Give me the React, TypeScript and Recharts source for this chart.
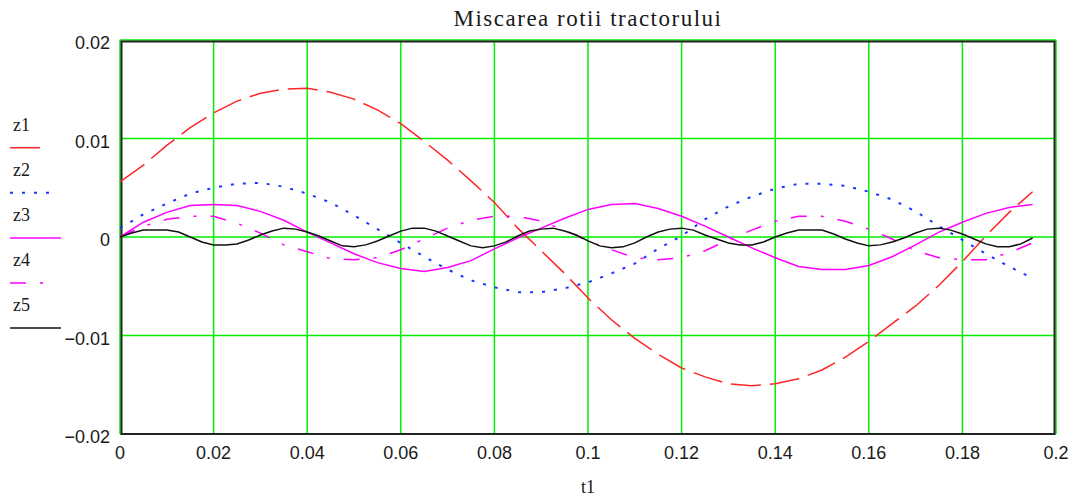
import { CartesianGrid, Legend, Line, LineChart, ReferenceArea, XAxis, YAxis } from "recharts";

// time grid of the four slow curves (step 0.005)
const tCoarse = [
  0, 0.005, 0.01, 0.015, 0.02, 0.025, 0.03, 0.035, 0.04, 0.045,
  0.05, 0.055, 0.06, 0.065, 0.07, 0.075, 0.08, 0.085, 0.09, 0.095,
  0.1, 0.105, 0.11, 0.115, 0.12, 0.125, 0.13, 0.135, 0.14, 0.145,
  0.15, 0.155, 0.16, 0.165, 0.17, 0.175, 0.18, 0.185, 0.19, 0.195,
];

// time grid of z5, which wiggles faster (step 0.0025)
const tFine = [
  0, 0.0025, 0.005, 0.0075, 0.01, 0.0125, 0.015, 0.0175, 0.02, 0.0225,
  0.025, 0.0275, 0.03, 0.0325, 0.035, 0.0375, 0.04, 0.0425, 0.045, 0.0475,
  0.05, 0.0525, 0.055, 0.0575, 0.06, 0.0625, 0.065, 0.0675, 0.07, 0.0725,
  0.075, 0.0775, 0.08, 0.0825, 0.085, 0.0875, 0.09, 0.0925, 0.095, 0.0975,
  0.1, 0.1025, 0.105, 0.1075, 0.11, 0.1125, 0.115, 0.1175, 0.12, 0.1225,
  0.125, 0.1275, 0.13, 0.1325, 0.135, 0.1375, 0.14, 0.1425, 0.145, 0.1475,
  0.15, 0.1525, 0.155, 0.1575, 0.16, 0.1625, 0.165, 0.1675, 0.17, 0.1725,
  0.175, 0.1775, 0.18, 0.1825, 0.185, 0.1875, 0.19, 0.1925, 0.195,
];

const z1 = [
  0.0056, 0.0073, 0.0093, 0.0111, 0.0126, 0.0138, 0.0146, 0.015, 0.0151, 0.0147,
  0.014, 0.0129, 0.0115, 0.0097, 0.0078, 0.0057, 0.0035, 0.0009, -0.0014, -0.0037,
  -0.0062, -0.0084, -0.0103, -0.0119, -0.0133, -0.0142, -0.0149, -0.0151, -0.0149, -0.0144,
  -0.0135, -0.0122, -0.0106, -0.0088, -0.007, -0.0049, -0.0025, 0.0001, 0.0025, 0.0046,
];

const z2 = [
  0.0009, 0.0023, 0.0034, 0.0044, 0.005, 0.0054, 0.0055, 0.0051, 0.0044, 0.0035,
  0.0022, 0.0008, -0.0006, -0.002, -0.0033, -0.0044, -0.0051, -0.0056, -0.0056, -0.0052,
  -0.0046, -0.0037, -0.0027, -0.0012, 0.0001, 0.0018, 0.0031, 0.0041, 0.0049, 0.0054,
  0.0054, 0.0052, 0.0046, 0.0038, 0.0026, 0.0011, -0.0003, -0.0017, -0.003, -0.0042,
];

const z3 = [
  0, 0.0015, 0.0025, 0.0032, 0.0033, 0.0032, 0.0026, 0.0017, 0.0005, -0.0006,
  -0.0017, -0.0026, -0.0032, -0.0035, -0.0031, -0.0024, -0.0012, -0.0001, 0.0009, 0.0019,
  0.0028, 0.0033, 0.0034, 0.0029, 0.0021, 0.0011, 0, -0.0011, -0.0021, -0.003,
  -0.0033, -0.0033, -0.0029, -0.002, -0.0008, 0.0005, 0.0015, 0.0024, 0.003, 0.0033,
];

const z4 = [
  0, 0.0011, 0.0018, 0.0021, 0.0021, 0.0014, 0.0004, -0.0008, -0.0015, -0.0022,
  -0.0023, -0.0021, -0.0013, -0.0002, 0.0009, 0.0017, 0.0021, 0.0021, 0.0016, 0.0007,
  -0.0004, -0.0013, -0.0021, -0.0023, -0.0021, -0.0014, -0.0003, 0.0007, 0.0016, 0.0021,
  0.0021, 0.0016, 0.0008, -0.0002, -0.0014, -0.0021, -0.0023, -0.0023, -0.0016, -0.0006,
];

const z5 = [
  0, 0.0004, 0.0007, 0.0007, 0.0007, 0.0005, 0, -0.0005, -0.0008, -0.0008,
  -0.0007, -0.0003, 0.0002, 0.0006, 0.0009, 0.0008, 0.0005, 0.0001, -0.0004, -0.0009,
  -0.001, -0.0008, -0.0004, 0.0001, 0.0006, 0.0009, 0.0009, 0.0006, 0.0001, -0.0004,
  -0.0009, -0.0011, -0.0009, -0.0005, 0.0001, 0.0006, 0.0008, 0.0009, 0.0006, 0.0002,
  -0.0004, -0.0009, -0.0011, -0.001, -0.0006, 0, 0.0005, 0.0008, 0.0009, 0.0007,
  0.0002, -0.0002, -0.0006, -0.0008, -0.0008, -0.0005, 0, 0.0004, 0.0007, 0.0007,
  0.0007, 0.0003, -0.0002, -0.0006, -0.0009, -0.0008, -0.0005, -0.0001, 0.0004, 0.0008,
  0.0009, 0.0007, 0.0003, -0.0002, -0.0007, -0.001, -0.001, -0.0007, -0.0001,
];

const xTicks = [0, 0.02, 0.04, 0.06, 0.08, 0.1, 0.12, 0.14, 0.16, 0.18, 0.2];
const xTickLabels = ["0", "0.02", "0.04", "0.06", "0.08", "0.1", "0.12", "0.14", "0.16", "0.18", "0.2"];
const yTicks = [-0.02, -0.01, 0, 0.01, 0.02];
const yTickLabels = ["\u22120.02", "\u22120.01", "0", "0.01", "0.02"];

const series = [
  { key: "z1", color: "#ff2626", dash: "30 9", width: 1.5, legendLen: 35 },
  { key: "z2", color: "#1c34ff", dash: "3 9", width: 2, legendLen: 42 },
  { key: "z3", color: "#ff00ff", dash: undefined, width: 1.5, legendLen: 51 },
  { key: "z4", color: "#ff00ff", dash: "16 14 3 14", width: 1.5, legendLen: 34 },
  { key: "z5", color: "#111111", dash: undefined, width: 1.5, legendLen: 51 },
];

// z5 runs on the fine grid; the other curves sit on every second row
const rows = tFine.map((t, i) => {
  const j = i / 2;
  const even = i % 2 === 0 && tCoarse[j] === t;
  return {
    t,
    z1: even ? z1[j] : null,
    z2: even ? z2[j] : null,
    z3: even ? z3[j] : null,
    z4: even ? z4[j] : null,
    z5: z5[i],
  };
});

const tickFont = { fontFamily: "'Liberation Sans', Arial, sans-serif", fontSize: 18, fill: "#1a1a1a" };
const serif = "'Liberation Serif', 'Times New Roman', serif";

// Mathcad draws its black box just inside the outer green grid lines
const FrameBox = (p: any) => (
  <rect
    x={p.x + 1.5}
    y={p.y + 1.5}
    width={p.width - 3}
    height={p.height - 1.5}
    fill="none"
    stroke="#222"
    strokeWidth={2}
  />
);

const MathcadLegend = () => (
  <svg width={80} height={240}>
    {series.map((s, i) => {
      const ly = 47.7 + i * 45.1;
      return (
        <g key={s.key}>
          <text x={13} y={30.5 + i * 45.1} fontFamily={serif} fontSize={18} fill="#1a1a1a">
            {s.key}
          </text>
          <line
            x1={10}
            x2={10 + s.legendLen}
            y1={ly}
            y2={ly}
            stroke={s.color}
            strokeWidth={s.width}
            strokeDasharray={s.dash}
          />
        </g>
      );
    })}
  </svg>
);

export default function App() {
  return (
    <div style={{ position: "absolute", left: 0, top: 0, width: 1075, height: 497, background: "#fff" }}>
      <svg width={1075} height={40} style={{ position: "absolute", left: 0, top: 0 }}>
        <text x={588} y={26} textAnchor="middle" fontFamily={serif} fontSize={23} letterSpacing={1.5} fill="#1a1a1a">
          Miscarea rotii tractorului
        </text>
      </svg>
      <LineChart width={1075} height={497} data={rows} margin={{ top: 40, right: 19, bottom: 0, left: 0 }}>
        <CartesianGrid stroke="#00ee00" strokeWidth={1.5} />
        <XAxis
          dataKey="t"
          type="number"
          domain={[0, 0.2]}
          ticks={xTicks}
          tickFormatter={(v: number) => xTickLabels[xTicks.indexOf(v)] ?? String(v)}
          axisLine={false}
          tickLine={false}
          tickSize={0}
          tickMargin={12}
          height={63}
          tick={tickFont}
          label={{ value: "t1", position: "insideBottom", offset: 4, fontFamily: serif, fontSize: 18, fill: "#1a1a1a" }}
        />
        <YAxis
          type="number"
          domain={[-0.02, 0.02]}
          ticks={yTicks}
          tickFormatter={(v: number) => yTickLabels[yTicks.indexOf(v)] ?? String(v)}
          axisLine={false}
          tickLine={false}
          tickSize={0}
          tickMargin={10}
          width={120}
          tick={{ ...tickFont, dy: 3 }}
        />
        <ReferenceArea x1={0} x2={0.2} y1={-0.02} y2={0.02} shape={FrameBox} />
        <Legend
          layout="vertical"
          align="center"
          verticalAlign="middle"
          content={MathcadLegend}
          wrapperStyle={{ position: "absolute", left: 0, top: 100, width: 80, height: 240 }}
        />
        {series.map((s) => (
          <Line
            key={s.key}
            dataKey={s.key}
            name={s.key}
            stroke={s.color}
            strokeWidth={s.width}
            strokeDasharray={s.dash}
            dot={false}
            activeDot={false}
            connectNulls
            isAnimationActive={false}
          />
        ))}
      </LineChart>
    </div>
  );
}
